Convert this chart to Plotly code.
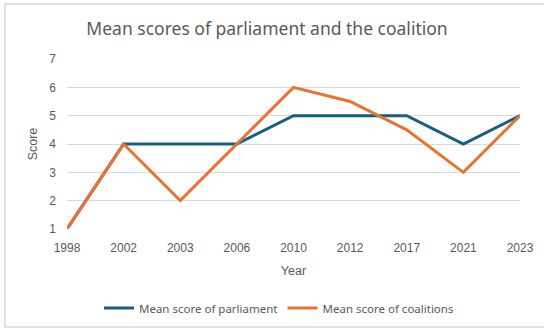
import plotly.graph_objects as go

years = ["1998", "2002", "2003", "2006", "2010", "2012", "2017", "2021", "2023"]
parliament = [1, 4, 4, 4, 5, 5, 5, 4, 5]
coalitions = [1, 4, 2, 4, 6, 5.5, 4.5, 3, 5]

BLUE = "#156082"
ORANGE = "#E97132"
GREY = "#595959"

fig = go.Figure()
fig.add_trace(go.Scatter(x=years, y=parliament, mode="lines", name="Mean score of parliament",
                         line=dict(color=BLUE, width=3)))
fig.add_trace(go.Scatter(x=years, y=coalitions, mode="lines", name="Mean score of coalitions",
                         line=dict(color=ORANGE, width=3)))

W, H = 544, 329
L, R, T, B = 67, 24, 59, 100
pw, ph = W - L - R, H - T - B

def px_x(x):
    return (x - L) / pw

def px_y(y):
    return (H - B - y) / ph

fig.update_layout(
    width=W, height=H,
    margin=dict(l=L, r=R, t=T, b=B, autoexpand=False),
    paper_bgcolor="white", plot_bgcolor="white",
    font=dict(family="Liberation Sans, Arial", size=11, color=GREY),
    title=dict(text="Mean scores of parliament and the coalition",
               x=267 / W, xanchor="center",
               y=1 - 29 / H, yanchor="middle",
               font=dict(family="Noto Sans", size=17.5, color=GREY)),
    xaxis=dict(type="category", range=[0, len(years) - 1], showgrid=False,
               showline=False, zeroline=False, ticks="", automargin=False,
               tickfont=dict(size=12, color=GREY), ticklabelstandoff=10,
               title=dict(text="Year", font=dict(size=12.5, color=GREY), standoff=12)),
    yaxis=dict(range=[1, 7], dtick=1, showgrid=True, gridcolor="#D9D9D9", gridwidth=1,
               zeroline=False, showline=False, ticks="", automargin=False,
               tickfont=dict(size=12, color=GREY), ticklabelstandoff=10,
               title=dict(text="Score", font=dict(size=12.5, color=GREY), standoff=8)),
    legend=dict(orientation="h", x=px_x(279), xanchor="center", y=px_y(308), yanchor="middle",
                font=dict(family="Noto Sans", size=11.5, color=GREY), itemwidth=30,
                tracegroupgap=0),
    showlegend=True,
)

# Chart frame
fig.add_shape(type="rect", xref="paper", yref="paper",
              x0=px_x(5), x1=px_x(560), y0=px_y(327), y1=px_y(4),
              line=dict(color="#D9D9D9", width=1.5), fillcolor="rgba(0,0,0,0)", layer="below")

fig.write_html("out.html")
